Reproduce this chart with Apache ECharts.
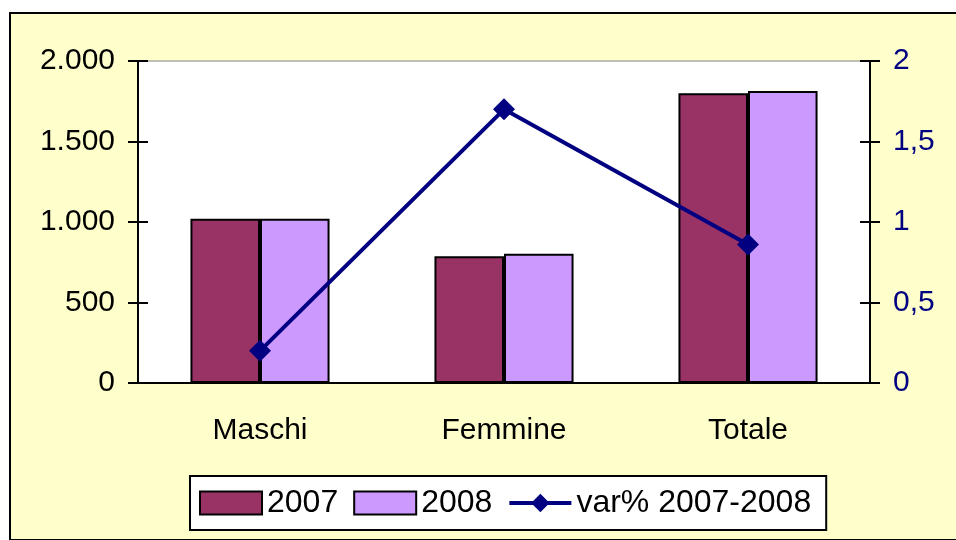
<!DOCTYPE html>
<html>
<head>
<meta charset="utf-8">
<script src="https://cdn.jsdelivr.net/npm/echarts@6/dist/echarts.min.js"></script>
<style>
  html, body { margin: 0; padding: 0; background: #fff; overflow: hidden; }
  #frame {
    position: absolute; left: 9px; top: 12px; width: 980px; height: 525px;
    background: #ffffcc; border: 2px solid #000;
  }
  #chart { position: absolute; left: 0; top: 0; width: 956px; height: 540px; }
</style>
</head>
<body>
<div id="frame"></div>
<div id="chart"></div>
<script>
// dati
const categories = ["Maschi", "Femmine", "Totale"];
const values2007 = [1020, 787, 1800];
const values2008 = [1020, 803, 1813];
const varPct = [0.2, 1.7, 0.86];
const leftTicks = { min: 0, max: 2000, interval: 500 };
const rightTicks = { min: 0, max: 2, interval: 0.5 };

const font = "'Liberation Sans', Arial, sans-serif";
const chart = echarts.init(document.getElementById("chart"));

function fmtLeft(v) {
  // separatore delle migliaia con il punto
  return String(v).replace(/\B(?=(\d{3})+(?!\d))/g, ".");
}
function fmtRight(v) {
  return String(v).replace(".", ",");
}

const tickStyle = { color: "#000", width: 2 };

const option = {
  animation: false,
  textStyle: { fontFamily: font },
  grid: {
    left: 138,
    right: 86,
    top: 61,
    bottom: 157,
    show: true,
    backgroundColor: "#fff",
    borderColor: "#808080",
    borderWidth: 1,
  },
  legend: {
    left: 190,
    top: 476,
    padding: [11, 15, 11, 9],
    backgroundColor: "#fff",
    borderColor: "#000",
    borderWidth: 2,
    itemWidth: 62,
    itemHeight: 23,
    itemGap: 15,
    lineStyle: { width: 4 },
    textStyle: { fontSize: 32, color: "#000", fontFamily: font },
    data: [
      { name: "2007", icon: "rect" },
      { name: "2008", icon: "rect" },
      { name: "var% 2007-2008" },
    ],
  },
  xAxis: [
    {
      type: "category",
      data: categories,
      axisLine: { lineStyle: tickStyle },
      axisTick: { length: 11, lineStyle: tickStyle },
      axisLabel: { fontSize: 30, color: "#000", margin: 33 },
    },
    {
      // tacche interne
      type: "category",
      data: categories,
      position: "bottom",
      axisLine: { show: false },
      axisTick: { inside: true, length: 11, lineStyle: tickStyle },
      axisLabel: { show: false },
    },
  ],
  yAxis: [
    {
      type: "value",
      position: "left",
      min: leftTicks.min,
      max: leftTicks.max,
      interval: leftTicks.interval,
      splitLine: { show: false },
      axisLine: { show: true, lineStyle: tickStyle },
      axisTick: { show: true, length: 10, lineStyle: tickStyle },
      axisLabel: { fontSize: 30, color: "#000", margin: 23, formatter: fmtLeft },
    },
    {
      type: "value",
      position: "right",
      min: rightTicks.min,
      max: rightTicks.max,
      interval: rightTicks.interval,
      splitLine: { show: false },
      axisLine: { show: true, lineStyle: tickStyle },
      axisTick: { show: true, length: 10, lineStyle: tickStyle },
      axisLabel: { fontSize: 30, color: "#000080", margin: 23, formatter: fmtRight },
    },
    {
      type: "value",
      position: "left",
      min: leftTicks.min,
      max: leftTicks.max,
      interval: leftTicks.interval,
      splitLine: { show: false },
      axisLine: { show: false },
      axisTick: { show: true, inside: true, length: 10, lineStyle: tickStyle },
      axisLabel: { show: false },
    },
    {
      type: "value",
      position: "right",
      min: rightTicks.min,
      max: rightTicks.max,
      interval: rightTicks.interval,
      splitLine: { show: false },
      axisLine: { show: false },
      axisTick: { show: true, inside: true, length: 10, lineStyle: tickStyle },
      axisLabel: { show: false },
    },
  ],
  series: [
    {
      name: "2007",
      type: "bar",
      data: values2007,
      barGap: "0%",
      barCategoryGap: "43%",
      itemStyle: { color: "#993366", borderColor: "#000", borderWidth: 2 },
    },
    {
      name: "2008",
      type: "bar",
      data: values2008,
      itemStyle: { color: "#cc99ff", borderColor: "#000", borderWidth: 2 },
    },
    {
      name: "var% 2007-2008",
      type: "line",
      yAxisIndex: 1,
      data: varPct,
      symbol: "diamond",
      symbolSize: 22,
      lineStyle: { color: "#000080", width: 4 },
      itemStyle: { color: "#000080" },
      z: 5,
    },
  ],
};

chart.setOption(option);
</script>
</body>
</html>
